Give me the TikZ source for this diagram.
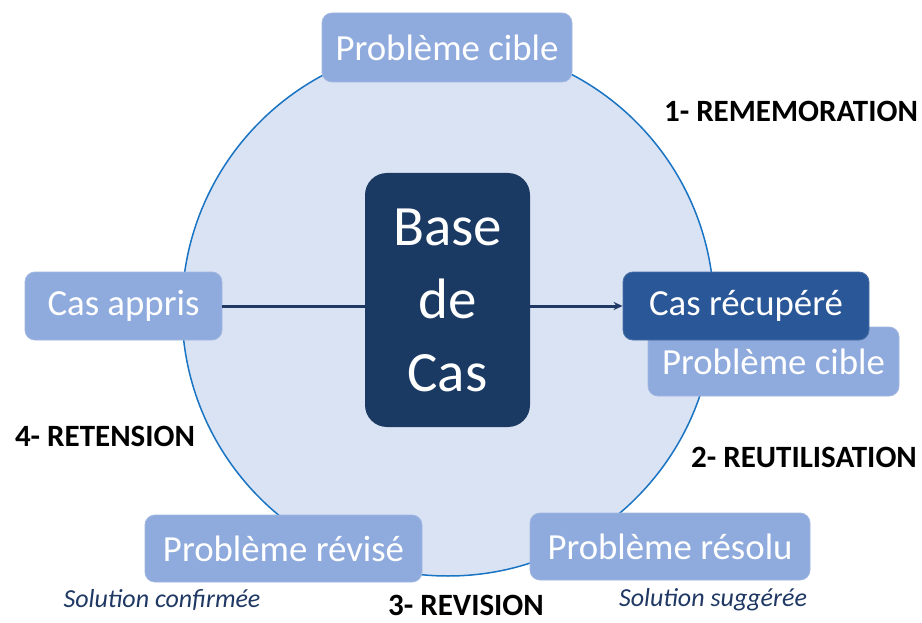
\documentclass[tikz,border=0pt]{standalone}
\usepackage{fontspec}
\setmainfont{Carlito}
\usetikzlibrary{arrows.meta}
\definecolor{circfill}{HTML}{DAE3F3}
\definecolor{circline}{HTML}{1A74C4}
\definecolor{lightbox}{HTML}{8FAADC}
\definecolor{midbox}{HTML}{2A5797}
\definecolor{darkbox}{HTML}{1B3A63}
\definecolor{navy}{HTML}{1F3864}
\tikzset{
  boxbase/.style={rounded corners=10pt, inner sep=0pt, text=white, font=\fontsize{36.8}{40}\selectfont, align=center},
  lbox/.style={boxbase, fill=lightbox, draw=lightbox!85!white, line width=0.8pt},
  mbox/.style={boxbase, fill=midbox, draw=midbox!85!white, line width=0.8pt},
  phase/.style={font=\fontsize{31}{34}\selectfont\bfseries, text=black, inner sep=0pt},
  sol/.style={font=\fontsize{26}{29}\selectfont\itshape, text=navy, inner sep=0pt},
  conn/.style={draw=navy, line width=3pt}
}
\begin{document}
\begin{tikzpicture}[x=1pt,y=-1pt]
\useasboundingbox (0,0) rectangle (922,623);
\fill[white] (0,0) rectangle (922,623);
\node[circle, minimum size=532pt, inner sep=0pt, fill=circfill, draw=circline, line width=1.5pt] (circ) at (448,310) {};
% boxes
\node[lbox, minimum width=250pt, minimum height=69pt] (top) at (447,47.5) {Problème cible};
\node[lbox, minimum width=251pt, minimum height=69pt] (cible2) at (773.5,361.5) {Problème cible};
\node[mbox, minimum width=246pt, minimum height=68pt] (recup) at (746,306) {Cas récupéré};
\node[lbox, minimum width=197pt, minimum height=68pt] (appris) at (123.5,306) {Cas appris};
\node[lbox, minimum width=277pt, minimum height=67pt] (revise) at (283.5,548.5) {Problème révisé};
\node[lbox, minimum width=280pt, minimum height=67pt] (resolu) at (670,546.5) {Problème résolu};
\node[boxbase, rounded corners=22pt, fill=darkbox, minimum width=165pt, minimum height=254pt, font=\fontsize{57}{73}\selectfont] (base) at (447.5,300) {Base\\de\\Cas};
% connectors
\draw[conn] (appris.east) -- (appris.east -| base.west);
\draw[conn, -{Stealth[length=9pt,width=8pt]}] (recup.west -| base.east) -- (recup.west);
% phase labels
\node[phase] (p1) at (791,111) {1- REMEMORATION};
\node[phase] (p2) at (804,457) {2- REUTILISATION};
\node[phase] (p3) at (466,605) {3- REVISION};
\node[phase] (p4) at (105,436) {4- RETENSION};
% solution labels
\node[sol] (s1) at (162,600) {Solution confirmée};
\node[sol] (s2) at (713,600) {Solution suggérée};
\end{tikzpicture}
\end{document}
